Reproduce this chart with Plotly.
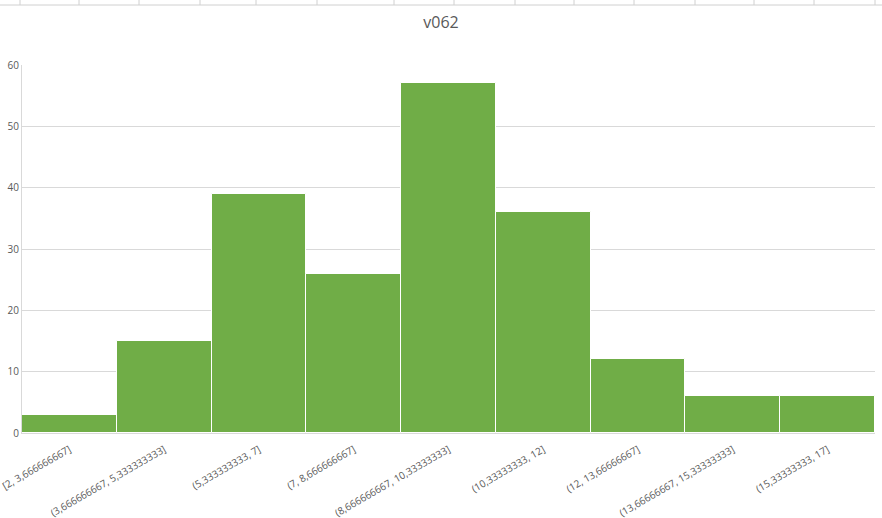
import plotly.graph_objects as go

categories = ["[2, 3,666666667]", "(3,666666667, 5,333333333]", "(5,333333333, 7]",
              "(7, 8,666666667]", "(8,666666667, 10,33333333]", "(10,33333333, 12]",
              "(12, 13,66666667]", "(13,66666667, 15,33333333]", "(15,33333333, 17]"]
counts = [3, 15, 39, 26, 57, 36, 12, 6, 6]
y_ticks = [0, 10, 20, 30, 40, 50, 60]

fig = go.Figure(go.Bar(x=categories, y=counts, marker=dict(color="#70AD47", line=dict(color="white", width=1))))

# top spreadsheet strip
grid_x = [20, 79, 139, 200, 256, 317, 394, 454, 515, 574, 634, 695, 754, 814, 875]
L, R, T, B = 22, 875, 65, 433
def px_x(p):
    return (p - L) / (R - L)
def px_y(p):
    return (B - p) / (B - T)
shapes = [dict(type="line", xref="paper", yref="paper", x0=px_x(0), x1=px_x(882), y0=px_y(5), y1=px_y(5), line=dict(color="#d0d0d0", width=1))]
for gx in grid_x:
    shapes.append(dict(type="line", xref="paper", yref="paper", x0=px_x(gx), x1=px_x(gx), y0=px_y(0), y1=px_y(5), line=dict(color="#d0d0d0", width=1)))

FONT = "Open Sans"
fig.update_layout(
    width=882, height=518,
    margin=dict(l=L, r=882 - R, t=T, b=518 - B, autoexpand=False),
    paper_bgcolor="white", plot_bgcolor="white",
    bargap=0,
    shapes=shapes,
    showlegend=False,
    title=dict(text="v062", x=0.5, xanchor="center", y=1 - 22/518, yanchor="middle",
               font=dict(family=FONT, size=16, color="#595959")),
    font=dict(family=FONT, color="#595959"),
    xaxis=dict(type="category", tickangle=-30, tickfont=dict(family=FONT, size=10, color="#595959"), automargin=False,
               ticklabelstandoff=6,
               showline=True, linecolor="#d9d9d9", linewidth=1, ticks="", showgrid=False),
    yaxis=dict(range=[0, 60], tickvals=y_ticks, tickfont=dict(family=FONT, size=10, color="#595959"), automargin=False,
               showgrid=True, gridcolor="#d9d9d9", gridwidth=1, zeroline=False,
               showline=True, linecolor="#d9d9d9", ticks=""),
)

fig.write_html("out.html", config={"displayModeBar": False},
               post_script="document.body.style.margin='0';document.body.style.overflow='hidden';")
